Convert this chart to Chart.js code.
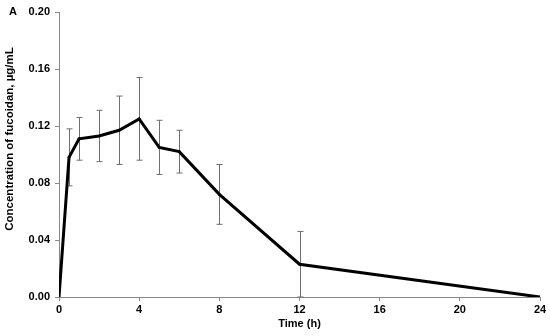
<!DOCTYPE html>
<html>
<head>
<meta charset="utf-8">
<script src="https://cdn.jsdelivr.net/npm/chart.js@4"></script>
<style>
  html, body { margin: 0; padding: 0; background: #fff; }
  .wrap { position: relative; width: 550px; height: 336px; }
  .panel { position: absolute; left: 9px; top: 5px; font: bold 11px "Liberation Sans", Arial, sans-serif; color: #000; }
</style>
</head>
<body>
<div class="wrap">
  <canvas id="pkChart" width="550" height="336"></canvas>
  <div class="panel">A</div>
</div>
<script>
// Zaman noktaları (saat)
const times = [0, 0.5, 1, 2, 3, 4, 5, 6, 8, 12, 24];
// Ortalama konsantrasyon (µg/mL)
const means = [0, 0.098, 0.111, 0.113, 0.117, 0.125, 0.105, 0.102, 0.072, 0.023, 0];
// Standart sapma
const sds = [0, 0.020, 0.015, 0.018, 0.024, 0.029, 0.019, 0.015, 0.021, 0.023, 0];
// Eksen tick değerleri
const xTicks = [0, 4, 8, 12, 16, 20, 24];
const yTicks = [0, 0.04, 0.08, 0.12, 0.16, 0.20];
const yTitle = 'Concentration of fucoidan, µg/mL';

const points = times.map((t, i) => ({ x: t, y: means[i] }));

// Hata çubuklarını ölçekler üzerinden çizen eklenti
const errorBars = {
  id: 'errorBars',
  beforeDatasetsDraw(chart) {
    const { ctx, scales: { x, y } } = chart;
    ctx.save();
    ctx.strokeStyle = '#6e6e6e';
    ctx.lineWidth = 1;
    times.forEach((t, i) => {
      if (!sds[i]) return;
      const px = Math.round(x.getPixelForValue(t)) + 0.5;
      const top = y.getPixelForValue(means[i] + sds[i]);
      const bot = y.getPixelForValue(Math.max(0, means[i] - sds[i]));
      ctx.beginPath();
      ctx.moveTo(px, top); ctx.lineTo(px, bot);
      ctx.moveTo(px - 3, top); ctx.lineTo(px + 3, top);
      ctx.moveTo(px - 3, bot); ctx.lineTo(px + 3, bot);
      ctx.stroke();
    });
    ctx.restore();
  }
};

// Y ekseni başlığı (biraz yukarı kaydırılmış)
const yTitlePlugin = {
  id: 'yTitle',
  afterDraw(chart) {
    const ctx = chart.ctx;
    ctx.save();
    ctx.translate(10, 139);
    ctx.rotate(-Math.PI / 2);
    ctx.font = 'bold 11.5px "Liberation Sans", Arial, sans-serif';
    ctx.fillStyle = '#000';
    ctx.textAlign = 'center';
    ctx.textBaseline = 'middle';
    ctx.fillText(yTitle, 0, 0);
    ctx.restore();
  }
};

const font = { family: '"Liberation Sans", Arial, sans-serif', size: 11, weight: 'bold' };

new Chart(document.getElementById('pkChart').getContext('2d'), {
  type: 'scatter',
  data: {
    datasets: [{
      data: points,
      showLine: true,
      borderColor: '#000',
      borderWidth: 3,
      pointRadius: 1.3,
      pointBorderWidth: 0,
      pointBackgroundColor: '#000',
      tension: 0
    }]
  },
  options: {
    responsive: false,
    animation: false,
    layout: { padding: { top: 12, right: 10, left: 0, bottom: 0 } },
    plugins: { legend: { display: false }, tooltip: { enabled: false } },
    scales: {
      x: {
        type: 'linear',
        min: 0, max: 24,
        afterBuildTicks: s => { s.ticks = xTicks.map(v => ({ value: v })); },
        afterFit: s => { s.height = 39; },
        ticks: { font, color: '#000', padding: 2, callback: v => v },
        grid: { drawOnChartArea: false, drawTicks: true, tickLength: 4, color: '#888' },
        border: { color: '#888' },
        title: { display: true, text: 'Time (h)', font, color: '#000', padding: { top: 0, bottom: 5 } }
      },
      y: {
        min: 0, max: 0.2,
        afterBuildTicks: s => { s.ticks = yTicks.map(v => ({ value: v })); },
        afterFit: s => { s.width = 59; },
        ticks: { font, color: '#000', padding: 5, callback: v => v.toFixed(2) },
        grid: { drawOnChartArea: false, drawTicks: true, tickLength: 4, color: '#888' },
        border: { color: '#888' }
      }
    }
  },
  plugins: [errorBars, yTitlePlugin]
});
</script>
</body>
</html>
